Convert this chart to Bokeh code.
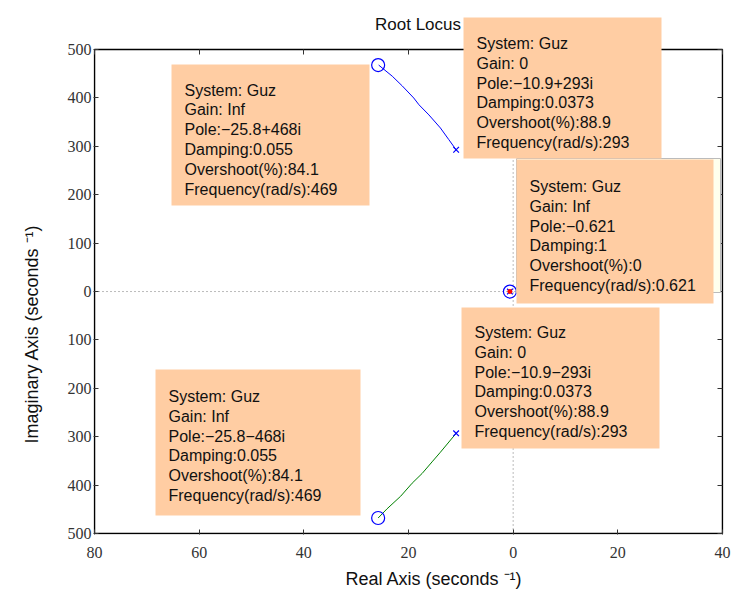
import math
from bokeh.plotting import figure
from bokeh.models import Range1d, FixedTicker, LinearAxis, BoxAnnotation, Label, Title
from bokeh.embed import file_html
from bokeh.resources import INLINE

# ---------------- data ----------------
upper_re = [-25.7, -23.1, -21.2, -19.0, -18.0, -16.1, -13.9, -12.3, -10.9]
upper_im = [468, 445, 425, 400, 386, 365, 338, 314, 293]
lower_re = [-25.8, -24.1, -21.5, -19.3, -17.4, -15.5, -13.9, -10.9]
lower_im = [-468, -449, -423, -396, -376, -352, -332, -293]

pole_re = [-10.9, -10.9, -0.621]
pole_im = [293, -293, 0]
zero_re = [-25.8, -25.8, -0.621]
zero_im = [468, -468, 0]
tip_re = [-0.621]
tip_im = [0]

x_ticks = [-80, -60, -40, -20, 0, 20, 40]
x_tick_labels = ["80", "60", "40", "20", "0", "20", "40"]
y_ticks = [-500, -400, -300, -200, -100, 0, 100, 200, 300, 400, 500]
y_tick_labels = ["500", "400", "300", "200", "100", "0", "100", "200", "300", "400", "500"]

tip_system = ["Guz", "Guz", "Guz", "Guz", "Guz"]
tip_gain = ["Inf", "0", "Inf", "0", "Inf"]
tip_pole = ["\u221225.8+468i", "\u221210.9+293i", "\u22120.621", "\u221210.9\u2212293i", "\u221225.8\u2212468i"]
tip_damping = ["0.055", "0.0373", "1", "0.0373", "0.055"]
tip_overshoot = ["84.1", "88.9", "0", "88.9", "84.1"]
tip_freq = ["469", "293", "0.621", "293", "469"]

title_text = "Root Locus"
xlabel_text = "Real Axis (seconds \u207b\u00b9)"
ylabel_text = "Imaginary Axis (seconds \u207b\u00b9)"

# ---------------- layout (pixels, canvas coords from top-left) ----------------
W, H = 731, 601
BL, BR, BT, BB = 94, 722, 50, 533          # axes box
XMIN, XMAX, YMIN, YMAX = -80, 40, -500, 500
PAD = 1                                     # frame is 1px larger than the box
FT = 1                                      # frame top (thin top-tick axis panel)
FL, FR, FB = BL - PAD, BR + PAD, BB + PAD
UX = (XMAX - XMIN) / (BR - BL)
UY = (YMAX - YMIN) / (BB - BT)

tip_boxes = [(171, 369, 64, 205), (463, 661, 17, 158), (516, 713, 159, 303),
             (461, 659, 307, 448), (155, 360, 369, 515)]
tip_text_origin = [(184, 89.5), (476, 43), (529, 186), (474, 332), (168, 396)]
LINE_STEP = 19.8
BOX_COLOR = "#FFCDA3"
SANS = "Liberation Sans"
SERIF = "Liberation Serif"
TXT = "#111111"


def sx(px):
    return px - FL


def sy(py):
    return FB - py


p = figure(width=W, height=H,
           x_range=Range1d(XMIN - PAD * UX, XMAX + PAD * UX),
           y_range=Range1d(YMIN - PAD * UY, YMAX + (BT - FT) * UY),
           output_backend="svg", toolbar_location=None,
           min_border_left=FL, min_border_right=W - FR, min_border_top=0,
           min_border_bottom=H - FB)
p.grid.visible = False
p.background_fill_color = "white"
p.border_fill_color = "white"
p.outline_line_color = None


def style_axis(ax, show_labels, standoff=0, tin=5, tout=0):
    ax.axis_line_color = None
    ax.major_tick_in = tin
    ax.major_tick_out = tout
    ax.major_tick_line_color = "#333333"
    ax.minor_tick_line_color = None
    ax.major_label_standoff = standoff
    if show_labels:
        ax.major_label_text_font = SERIF
        ax.major_label_text_font_size = "16px"
        ax.major_label_text_color = "#333333"
    else:
        ax.major_label_text_font_size = "1px"
        ax.major_label_text_color = None


p.xaxis.ticker = FixedTicker(ticks=x_ticks)
p.yaxis.ticker = FixedTicker(ticks=y_ticks)
p.xaxis.major_label_overrides = {t: l for t, l in zip(x_ticks, x_tick_labels)}
p.yaxis.major_label_overrides = {t: l for t, l in zip(y_ticks, y_tick_labels)}
style_axis(p.xaxis[0], True, 12)
style_axis(p.yaxis[0], True, 2)

# axis titles (side panels)
p.add_layout(Title(text=xlabel_text, text_font=SANS, text_font_size="18px",
                   text_font_style="normal", text_color=TXT, align="left",
                   vertical_align="bottom", offset=345 - FL, standoff=13), "below")
p.add_layout(Title(text=ylabel_text, text_font=SANS, text_font_size="18px",
                   text_font_style="normal", text_color=TXT, align="left",
                   vertical_align="top", offset=FB - 443, standoff=42), "left")

# ticks along the top edge and the right edge of the box
top_ax = LinearAxis(ticker=FixedTicker(ticks=x_ticks), fixed_location=YMAX)
style_axis(top_ax, False)
p.add_layout(top_ax, "above")
right_ax = LinearAxis(ticker=FixedTicker(ticks=y_ticks), fixed_location=XMAX)
style_axis(right_ax, False)
p.add_layout(right_ax, "right")

# axes box
p.add_layout(BoxAnnotation(left=XMIN, right=XMAX, bottom=YMIN, top=YMAX, fill_color=None,
                           line_color="black", line_alpha=1, line_width=1.5, level="underlay"))

# zero lines
p.segment(x0=[XMIN], y0=[0], x1=[XMAX], y1=[0], line_color="#777777", line_dash="1 3", line_width=1)
p.segment(x0=[0], y0=[YMIN], x1=[0], y1=[YMAX], line_color="#777777", line_dash="1 3", line_width=1)

# branches
p.line(upper_re, upper_im, line_color="#0000FF", line_width=1)
p.line(lower_re, lower_im, line_color="#008000", line_width=1)
p.scatter(zero_re, zero_im, marker="circle", size=13, fill_color=None, line_color="#0000FF", line_width=1.2)
p.scatter(pole_re, pole_im, marker="x", size=8, line_color="#0000FF", line_width=1.2)
p.scatter(tip_re, tip_im, marker="circle", size=5, fill_color="#FF0000", line_color=None)


def sbox(l, r, t, b, **kw):
    return BoxAnnotation(left=sx(l), right=sx(r), top=sy(t), bottom=sy(b),
                         left_units="screen", right_units="screen",
                         top_units="screen", bottom_units="screen", level="overlay", **kw)


def slabel(px, py, text, size, align="left", angle=0.0):
    return Label(x=sx(px), y=sy(py), x_units="screen", y_units="screen", text=text,
                 text_font=SANS, text_font_size=size, text_color=TXT, angle=angle,
                 text_align=align, text_baseline="alphabetic", level="overlay")


# data tip boxes
p.add_layout(sbox(516, 720, 158, 292, fill_color="#FFFFEE", fill_alpha=1,
                  line_color="#BBBBBB", line_alpha=1, line_width=1))
for i, (l, r, t, b) in enumerate(tip_boxes):
    p.add_layout(sbox(l, r, t, b, fill_color=BOX_COLOR, fill_alpha=1, line_color=None))
    lines = ["System: " + tip_system[i], "Gain: " + tip_gain[i], "Pole:" + tip_pole[i],
             "Damping:" + tip_damping[i], "Overshoot(%):" + tip_overshoot[i],
             "Frequency(rad/s):" + tip_freq[i]]
    tx, ty = tip_text_origin[i]
    for k, s in enumerate(lines):
        p.add_layout(slabel(tx, ty + k * LINE_STEP, s, "16px"))

# chart title
p.add_layout(slabel(417.5, 23.5, title_text, "17px", align="center"))

open("out.html", "w").write(file_html(p, INLINE))
